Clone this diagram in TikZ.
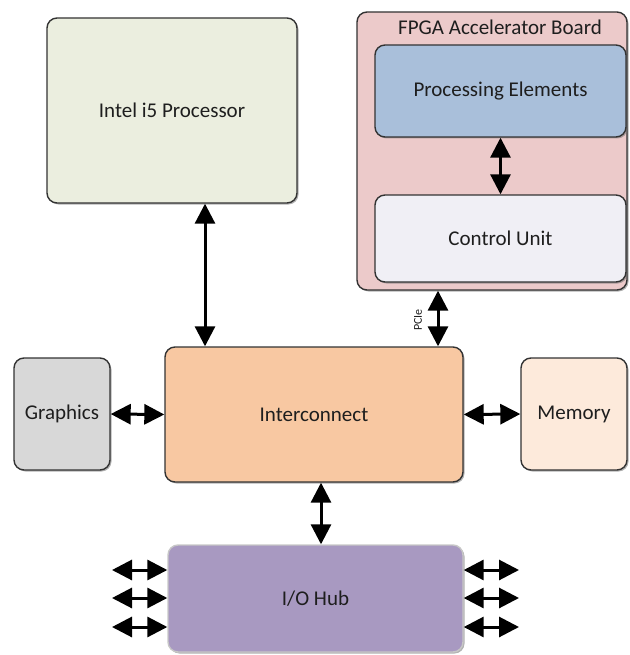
\documentclass[tikz,border=0pt]{standalone}
\usepackage{fontspec}
\setmainfont{Carlito}
\usetikzlibrary{arrows.meta,shadows}
\definecolor{intelc}{HTML}{EBEEDF}
\definecolor{fpgac}{HTML}{ECCACA}
\definecolor{pec}{HTML}{A9BFDA}
\definecolor{cuc}{HTML}{F0EFF5}
\definecolor{gfxc}{HTML}{D8D8D8}
\definecolor{icc}{HTML}{F8C8A2}
\definecolor{memc}{HTML}{FDEADB}
\definecolor{ioc}{HTML}{A899C1}
\definecolor{txtc}{HTML}{1E1E1E}
\definecolor{edgec}{HTML}{333333}
\tikzset{
  blk/.style={draw=edgec, line width=1.4pt, rounded corners=10pt, inner sep=0pt,
    text=txtc, font=\fontsize{21}{25}\selectfont,
    drop shadow={shadow xshift=1.5pt, shadow yshift=-1.5pt, fill=black!55, opacity=0.55}},
  biarrow/.style={line width=3pt, {Triangle[length=20pt,width=20pt]}-{Triangle[length=20pt,width=20pt]}},
}
\begin{document}
\begin{tikzpicture}[x=1pt,y=-1pt]
\useasboundingbox (0,0) rectangle (629,655);
% nodes
\node[blk, fill=intelc, minimum width=250pt, minimum height=185pt] (intel) at (172,110.5) {Intel i5 Processor};
\node[blk, fill=fpgac, minimum width=270pt, minimum height=278pt] (fpga) at (492,151) {};
\node[text=txtc, font=\fontsize{21}{25}\selectfont, inner sep=0pt] (title) at (500,27) {FPGA Accelerator Board};
\node[blk, fill=pec, minimum width=251pt, minimum height=92pt] (pe) at (500.5,91) {Processing Elements};
\node[blk, fill=cuc, minimum width=251pt, minimum height=87pt] (cu) at (500.5,238.5) {Control Unit};
\node[blk, fill=gfxc, minimum width=96pt, minimum height=112pt] (gfx) at (62,414) {Graphics};
\node[blk, fill=icc, minimum width=298pt, minimum height=135pt] (ic) at (314,414.5) {Interconnect};
\node[blk, fill=memc, minimum width=106pt, minimum height=112pt] (mem) at (574,414) {Memory};
\node[blk, draw=black!22, fill=ioc, minimum width=295pt, minimum height=107pt,
  drop shadow={shadow xshift=1pt, shadow yshift=-1pt, fill=black!30, opacity=0.4}] (io) at (315.5,598.5) {I/O Hub};
\node[rotate=90, text=txtc, font=\fontsize{12}{14}\selectfont, inner sep=0pt] (pcie) at (418,320) {PCIe};
% helper coordinates
\coordinate (ix) at (205,0);
\coordinate (px) at (438,0);
\coordinate (hx) at (321,0);
\coordinate (l1) at (112,570);
\coordinate (l2) at (112,598);
\coordinate (l3) at (112,627);
\coordinate (r1) at (519,570);
\coordinate (r2) at (519,598);
\coordinate (r3) at (519,627);
% connectors
\draw[biarrow] (pe.south) -- (cu.north);
\draw[biarrow] (fpga.south -| px) -- (ic.north -| px);
\draw[biarrow] (intel.south -| ix) -- (ic.north -| ix);
\draw[biarrow] (gfx.east) -- (ic.west);
\draw[biarrow] (ic.east) -- (mem.west);
\draw[biarrow] (ic.south -| hx) -- (io.north -| hx);
\draw[biarrow] (l1) -- (io.west |- l1);
\draw[biarrow] (l2) -- (io.west |- l2);
\draw[biarrow] (l3) -- (io.west |- l3);
\draw[biarrow] (io.east |- r1) -- (r1);
\draw[biarrow] (io.east |- r2) -- (r2);
\draw[biarrow] (io.east |- r3) -- (r3);
\end{tikzpicture}
\end{document}
